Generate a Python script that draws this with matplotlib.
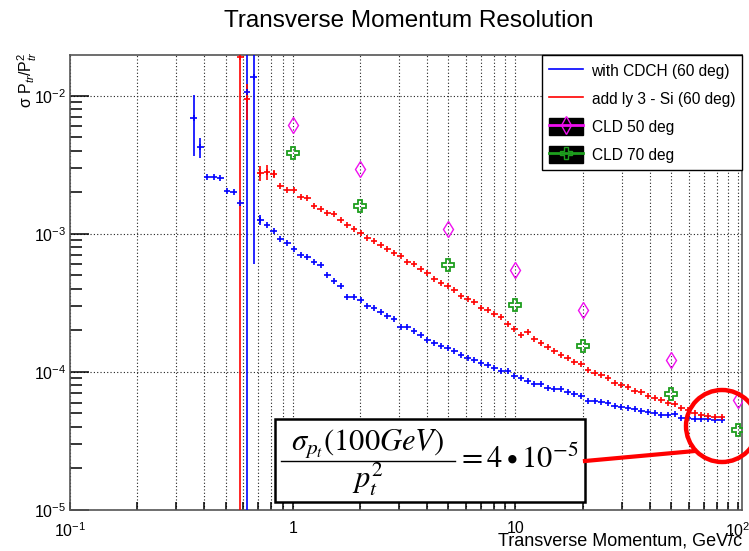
import numpy as np
import matplotlib
matplotlib.use("Agg")
import matplotlib.pyplot as plt
from matplotlib import ticker
from matplotlib.patches import Rectangle, Ellipse
from matplotlib.lines import Line2D
from matplotlib.legend_handler import HandlerTuple

plt.rcParams['font.family'] = ['Liberation Sans', 'DejaVu Sans']
plt.rcParams['mathtext.fontset'] = 'custom'
plt.rcParams['mathtext.rm'] = 'Liberation Sans'
plt.rcParams['mathtext.it'] = 'Liberation Sans:italic'
plt.rcParams['mathtext.bf'] = 'Liberation Sans:bold'

# histogram binning: 100 log bins from 0.1 to 100 GeV/c
bin_edges = np.logspace(-1, 2, 101)

# with CDCH (60 deg), starting at bin 18
cdch_first_bin = 18
cdch_res = [6.86e-3, 4.23e-3, 2.57e-3, 2.57e-3, 2.55e-3, 2.05e-3, 2.00e-3, 1.68e-3,
            1.06e-2, 1.37e-2, 1.26e-3, 1.16e-3, 1.05e-3, 9.18e-4, 8.55e-4, 7.82e-4,
            7.03e-4, 6.77e-4, 6.20e-4, 5.99e-4, 5.01e-4, 4.56e-4, 4.19e-4, 3.51e-4,
            3.51e-4, 3.33e-4, 3.00e-4, 2.92e-4, 2.73e-4, 2.55e-4, 2.41e-4, 2.11e-4,
            2.11e-4, 1.97e-4, 1.85e-4, 1.71e-4, 1.61e-4, 1.53e-4, 1.50e-4, 1.41e-4,
            1.33e-4, 1.27e-4, 1.21e-4, 1.16e-4, 1.12e-4, 1.06e-4, 1.02e-4, 1.02e-4,
            9.27e-5, 9.02e-5, 8.52e-5, 8.20e-5, 8.15e-5, 7.64e-5, 7.58e-5, 7.55e-5,
            7.10e-5, 6.95e-5, 6.64e-5, 6.11e-5, 6.11e-5, 6.08e-5, 5.94e-5, 5.68e-5,
            5.60e-5, 5.47e-5, 5.40e-5, 5.24e-5, 5.12e-5, 5.07e-5, 4.84e-5, 4.87e-5,
            4.98e-5, 4.63e-5, 4.60e-5, 4.58e-5, 4.56e-5, 4.56e-5, 4.50e-5, 4.48e-5]
cdch_err = {18: 3.2e-3, 19: 6.7e-4, 26: 1.1e-2, 27: 1.31e-2, 28: 1.0e-4}

# add ly 3 - Si (60 deg), starting at bin 25
si_first_bin = 25
si_res = [1.92e-2, 9.40e-3, np.nan, 2.77e-3, 2.82e-3, 2.71e-3, 2.23e-3, 2.06e-3,
          2.06e-3, 1.85e-3, 1.81e-3, 1.59e-3, 1.52e-3, 1.41e-3, 1.39e-3, 1.26e-3,
          1.15e-3, 1.08e-3, 1.02e-3, 9.39e-4, 8.89e-4, 8.32e-4, 7.74e-4, 7.24e-4,
          6.92e-4, 6.23e-4, 6.02e-4, 5.57e-4, 5.18e-4, 4.72e-4, 4.39e-4, 4.22e-4,
          3.93e-4, 3.57e-4, 3.38e-4, 3.18e-4, 2.92e-4, 2.81e-4, 2.62e-4, 2.48e-4,
          2.23e-4, 2.06e-4, 1.85e-4, 1.94e-4, 1.74e-4, 1.61e-4, 1.51e-4, 1.42e-4,
          1.32e-4, 1.26e-4, 1.17e-4, 1.14e-4, 1.03e-4, 9.80e-5, 9.52e-5, 9.02e-5,
          8.30e-5, 7.97e-5, 7.71e-5, 7.30e-5, 7.14e-5, 6.64e-5, 6.46e-5, 6.21e-5,
          5.94e-5, 5.85e-5, 5.47e-5, 5.26e-5, 5.08e-5, 4.90e-5, 4.81e-5, 4.73e-5,
          4.68e-5]
si_err = {25: 2.0e-2, 26: 2.7e-3, 28: 3.5e-4, 29: 3.5e-4, 30: 1.7e-4}

# CLD reference points
cld_pt = [1, 2, 5, 10, 20, 50, 100]
cld50_res = [6.14e-3, 2.93e-3, 1.08e-3, 5.48e-4, 2.81e-4, 1.21e-4, 6.22e-5]
cld70_res = [3.83e-3, 1.60e-3, 5.93e-4, 3.06e-4, 1.55e-4, 6.95e-5, 3.77e-5]

W, H = 749, 551
fig = plt.figure(figsize=(W / 100, H / 100), dpi=100)
ax = fig.add_axes([70 / W, 1 - 510 / H, 672 / W, 455 / H])


def draw_hist(first, res, errs, color):
    k = np.arange(first, first + len(res))
    y = np.array(res, dtype=float)
    lo, hi = bin_edges[k], bin_edges[k + 1]
    x = np.sqrt(lo * hi)
    e = np.array([errs.get(i, 0.0) for i in k])
    e_lo = np.minimum(e, y * 0.9999)
    ax.errorbar(x, y, xerr=[x - lo, hi - x], yerr=[e_lo, e], fmt='|', color=color,
                ms=4.5, mew=1.2, elinewidth=1.2, capsize=0, zorder=3)


draw_hist(cdch_first_bin, cdch_res, cdch_err, 'blue')
draw_hist(si_first_bin, si_res, si_err, 'red')

mag, grn = '#f010f0', '#1e9e1e'
ax.plot(cld_pt, cld50_res, ls='none', marker='d', ms=8, mfc='none', mec=mag, mew=1.0, zorder=4)
ax.plot(cld_pt, cld70_res, ls='none', marker='P', ms=9, mfc='none', mec=grn, mew=1.3, zorder=4)

ax.set_xscale('log')
ax.set_yscale('log')
ax.set_xlim(0.1, 104)
ax.set_ylim(1e-5, 1.97e-2)

xlab = {0.1: r'$10^{-1}$', 1: '1', 10: '10', 100: r'$10^{2}$'}
ax.xaxis.set_major_formatter(ticker.FuncFormatter(lambda v, p: xlab.get(round(v, 3), '')))
ax.xaxis.set_minor_formatter(ticker.NullFormatter())
ax.tick_params(which='both', direction='in', top=False, right=False, labelsize=11.5, width=1.1)
ax.tick_params(axis='x', which='both', length=6, pad=8)
ax.tick_params(axis='y', which='major', length=14, pad=3)
ax.tick_params(axis='y', which='minor', length=8.5)

ax.grid(axis='x', which='both', ls=(0, (1, 2)), color='#222222', lw=0.8)
ax.grid(axis='y', which='major', ls=(0, (1, 2)), color='#222222', lw=0.8)
for s in ax.spines.values():
    s.set_color('#555555')
    s.set_linewidth(1.2)

# legend
h_cdch = Line2D([], [], color='blue', lw=1.2)
h_si = Line2D([], [], color='red', lw=1.2)
h_50 = (Rectangle((0, 0), 1, 1, fc='black', ec='black'),
        Line2D([], [], color=mag, lw=2, marker='d', ms=9, mfc='none', mec=mag))
h_70 = (Rectangle((0, 0), 1, 1, fc='black', ec='black'),
        Line2D([], [], color=grn, lw=2, marker='P', ms=9, mfc='none', mec=grn))
leg = ax.legend([h_cdch, h_si, h_50, h_70],
                ['with CDCH (60 deg)', 'add ly 3 - Si (60 deg)', 'CLD 50 deg', 'CLD 70 deg'],
                handler_map={tuple: HandlerTuple(ndivide=1)},
                loc='upper right', borderaxespad=0, fancybox=False, framealpha=1,
                fontsize=11.2, handlelength=2.2, handleheight=1.3, handletextpad=0.55,
                labelspacing=0.72, borderpad=0.45)
leg.get_frame().set_edgecolor('black')
leg.get_frame().set_linewidth(1.0)
leg.set_zorder(10)

fig.text(409 / W, 1 - 21 / H, 'Transverse Momentum Resolution', ha='center', va='center', fontsize=17.5)
fig.text(27 / W, 1 - 51 / H, r'σ P$_{tr}$/P$^{2}_{tr}$', rotation=90, ha='center', va='top', fontsize=11.5)
fig.text(742 / W, 1 - 541 / H, 'Transverse Momentum, GeV/c', ha='right', va='center', fontsize=13)

# annotation box with the formula, circle and connecting line
fig.add_artist(Rectangle((275 / W, 1 - 502 / H), 310 / W, 83 / H, transform=fig.transFigure,
                         fc='white', ec='black', lw=1.8, zorder=20))
fsz = 22
fig.text(368 / W, 1 - 450 / H, r'$\sigma_{p_t}(100GeV)$', math_fontfamily='stix',
         fontsize=fsz, ha='center', va='baseline', zorder=21)
fig.add_artist(Line2D([281 / W, 455 / W], [1 - 461 / H, 1 - 461 / H], transform=fig.transFigure,
                      color='black', lw=1.0, zorder=21))
fig.text(368 / W, 1 - 488 / H, r'$p_t^{2}$', math_fontfamily='stix',
         fontsize=fsz, ha='center', va='baseline', zorder=21)
fig.text(457 / W, 1 - 468 / H, r'$=4\bullet 10^{-5}$', math_fontfamily='stix',
         fontsize=fsz, ha='left', va='baseline', zorder=21)
fig.add_artist(Line2D([585 / W, 695 / W], [1 - 461 / H, 1 - 451 / H], transform=fig.transFigure,
                      color='red', lw=3, zorder=20))
fig.add_artist(Ellipse((722 / W, 1 - 426 / H), 72 / W, 72 / H, transform=fig.transFigure,
                       fill=False, ec='red', lw=3.2, zorder=20))

fig.savefig('out.png', dpi=100)
